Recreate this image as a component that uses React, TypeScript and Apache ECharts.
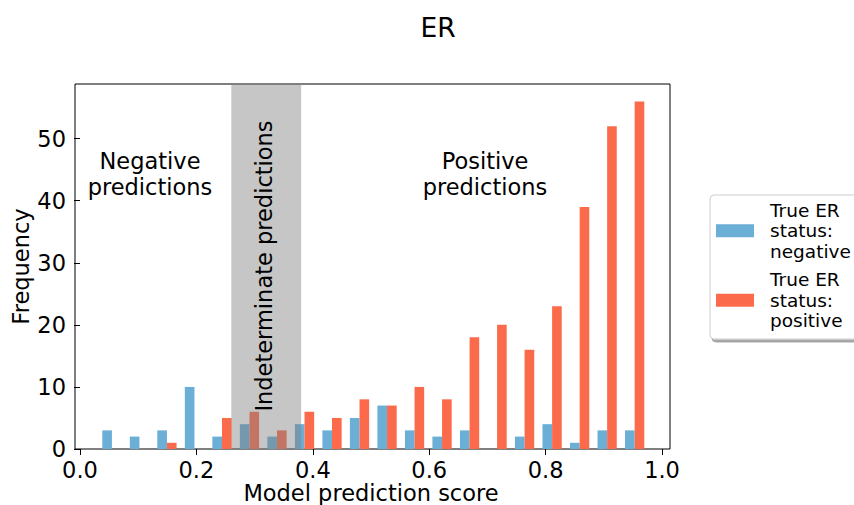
import React, { useEffect, useRef } from "react";
import * as echarts from "echarts";

// Histogram bins (left / right edges of each bin, model score)
const binLeft = [0.0312, 0.0785, 0.1257, 0.1730, 0.2203, 0.2676, 0.3148, 0.3621, 0.4094, 0.4566, 0.5039, 0.5512, 0.5984, 0.6457, 0.6930, 0.7402, 0.7875, 0.8348, 0.8821, 0.9293];
const binRight = [0.0785, 0.1257, 0.1730, 0.2203, 0.2676, 0.3148, 0.3621, 0.4094, 0.4566, 0.5039, 0.5512, 0.5984, 0.6457, 0.6930, 0.7402, 0.7875, 0.8348, 0.8821, 0.9293, 0.9766];
const negativeCounts = [3, 2, 3, 10, 2, 4, 2, 4, 3, 5, 7, 3, 2, 3, 0, 2, 4, 1, 3, 3];
const positiveCounts = [0, 0, 1, 0, 5, 6, 3, 6, 5, 8, 7, 10, 8, 18, 20, 16, 23, 39, 52, 56];
const indeterminateRange = [0.26, 0.38];
const xTicks = [0, 0.2, 0.4, 0.6, 0.8, 1.0];
const yTicks = [0, 10, 20, 30, 40, 50];
const seriesNames = ["True ER status: negative", "True ER status: positive"];
const legendLabels = ["True ER\nstatus:\nnegative", "True ER\nstatus:\npositive"];

const FONT = "DejaVu Sans";
const BLUE = "#6baed6";
const RED = "#fb6a4a";

function barRenderer(color: string, startFrac: number, endFrac: number) {
  return (params: any, api: any) => {
    const l = api.value(0);
    const r = api.value(1);
    const v = api.value(2);
    if (!v) return null;
    const w = r - l;
    const p0 = api.coord([l + startFrac * w, 0]);
    const p1 = api.coord([l + endFrac * w, v]);
    return {
      type: "rect",
      shape: { x: p0[0], y: p1[1], width: p1[0] - p0[0], height: p0[1] - p1[1] },
      style: { fill: color },
    };
  };
}

export default function App() {
  const ref = useRef<HTMLDivElement>(null);
  useEffect(() => {
    if (!ref.current) return;
    const chart = echarts.init(ref.current, null, { renderer: "svg" });
    const negData = binLeft.map((l, i) => [l, binRight[i], negativeCounts[i]]);
    const posData = binLeft.map((l, i) => [l, binRight[i], positiveCounts[i]]);
    chart.setOption({
      animation: false,
      backgroundColor: "#fff",
      textStyle: { fontFamily: FONT },
      grid: {
        left: 75,
        top: 84,
        right: 184,
        bottom: 56,
        show: true,
        borderColor: "#000",
        borderWidth: 1,
        backgroundColor: "transparent",
      },
      xAxis: {
        type: "value",
        min: -0.0086,
        max: 1.0137,
        splitLine: { show: false },
        axisLine: { show: false },
        axisTick: { show: true, length: 6, lineStyle: { color: "#000" }, customValues: xTicks },
        axisLabel: {
          customValues: xTicks,
          formatter: (v: number) => v.toFixed(1),
          fontSize: 22.5,
          color: "#000",
          fontFamily: FONT,
          margin: 9,
        },
      },
      yAxis: {
        type: "value",
        min: 0,
        max: 58.8,
        splitLine: { show: false },
        axisLine: { show: false },
        axisTick: { show: true, length: 6, lineStyle: { color: "#000" }, customValues: yTicks },
        axisLabel: {
          customValues: yTicks,
          fontSize: 22.5,
          color: "#000",
          fontFamily: FONT,
          margin: 9,
        },
      },
      legend: {
        orient: "vertical",
        left: 710,
        top: 195,
        itemWidth: 38,
        itemHeight: 13,
        itemGap: 8,
        padding: [5, 14, 8, 6],
        backgroundColor: "#fff",
        borderColor: "#cccccc",
        borderWidth: 1,
        borderRadius: 4,
        shadowColor: "rgba(0,0,0,0.35)",
        shadowOffsetX: 2,
        shadowOffsetY: 3,
        shadowBlur: 0,
        icon: "rect",
        data: seriesNames,
        formatter: (name: string) => legendLabels[seriesNames.indexOf(name)],
        textStyle: {
          fontSize: 18.5,
          lineHeight: 20.5,
          color: "#000",
          fontFamily: FONT,
          padding: [0, 0, 0, 11],
        },
      },
      series: [
        {
          name: seriesNames[0],
          type: "custom",
          renderItem: barRenderer(BLUE, 0.15, 0.5),
          itemStyle: { color: BLUE },
          encode: { x: [0, 1], y: 2 },
          data: negData,
          z: 2,
        },
        {
          name: seriesNames[1],
          type: "custom",
          renderItem: barRenderer(RED, 0.5, 0.85),
          itemStyle: { color: RED },
          encode: { x: [0, 1], y: 2 },
          data: posData,
          z: 2,
        },
        {
          name: "indeterminate",
          type: "custom",
          renderItem: (params: any, api: any) => {
            const cs = params.coordSys;
            const a = api.coord([api.value(0), 0]);
            const b = api.coord([api.value(1), 0]);
            return {
              type: "rect",
              shape: { x: a[0], y: cs.y, width: b[0] - a[0], height: cs.height },
              style: { fill: "rgba(128,128,128,0.45)" },
            };
          },
          encode: { x: [0, 1] },
          data: [indeterminateRange],
          z: 3,
          silent: true,
        },
      ],
      graphic: [
        {
          type: "text",
          x: 438,
          y: 27.5,
          style: { text: "ER", font: `26.5px "${FONT}"`, fill: "#000", align: "center", verticalAlign: "middle" },
        },
        {
          type: "text",
          x: 150,
          y: 174,
          style: {
            text: "Negative\npredictions",
            font: `22.5px "${FONT}"`,
            lineHeight: 26,
            fill: "#000",
            align: "center",
            verticalAlign: "middle",
          },
          z: 10,
        },
        {
          type: "text",
          x: 485,
          y: 174,
          style: {
            text: "Positive\npredictions",
            font: `22.5px "${FONT}"`,
            lineHeight: 26,
            fill: "#000",
            align: "center",
            verticalAlign: "middle",
          },
          z: 10,
        },
        {
          type: "text",
          x: 264,
          y: 266,
          rotation: Math.PI / 2,
          style: {
            text: "Indeterminate predictions",
            font: `22.5px "${FONT}"`,
            fill: "#000",
            align: "center",
            verticalAlign: "middle",
          },
          z: 10,
        },
        {
          type: "text",
          x: 20.7,
          y: 266.5,
          rotation: Math.PI / 2,
          style: { text: "Frequency", font: `22.5px "${FONT}"`, fill: "#000", align: "center", verticalAlign: "middle" },
        },
        {
          type: "text",
          x: 371,
          y: 493,
          style: { text: "Model prediction score", font: `22.5px "${FONT}"`, fill: "#000", align: "center", verticalAlign: "middle" },
        },
      ],
    });
    return () => chart.dispose();
  }, []);
  return <div ref={ref} style={{ width: 854, height: 505, position: "absolute", left: 0, top: 0 }} />;
}
